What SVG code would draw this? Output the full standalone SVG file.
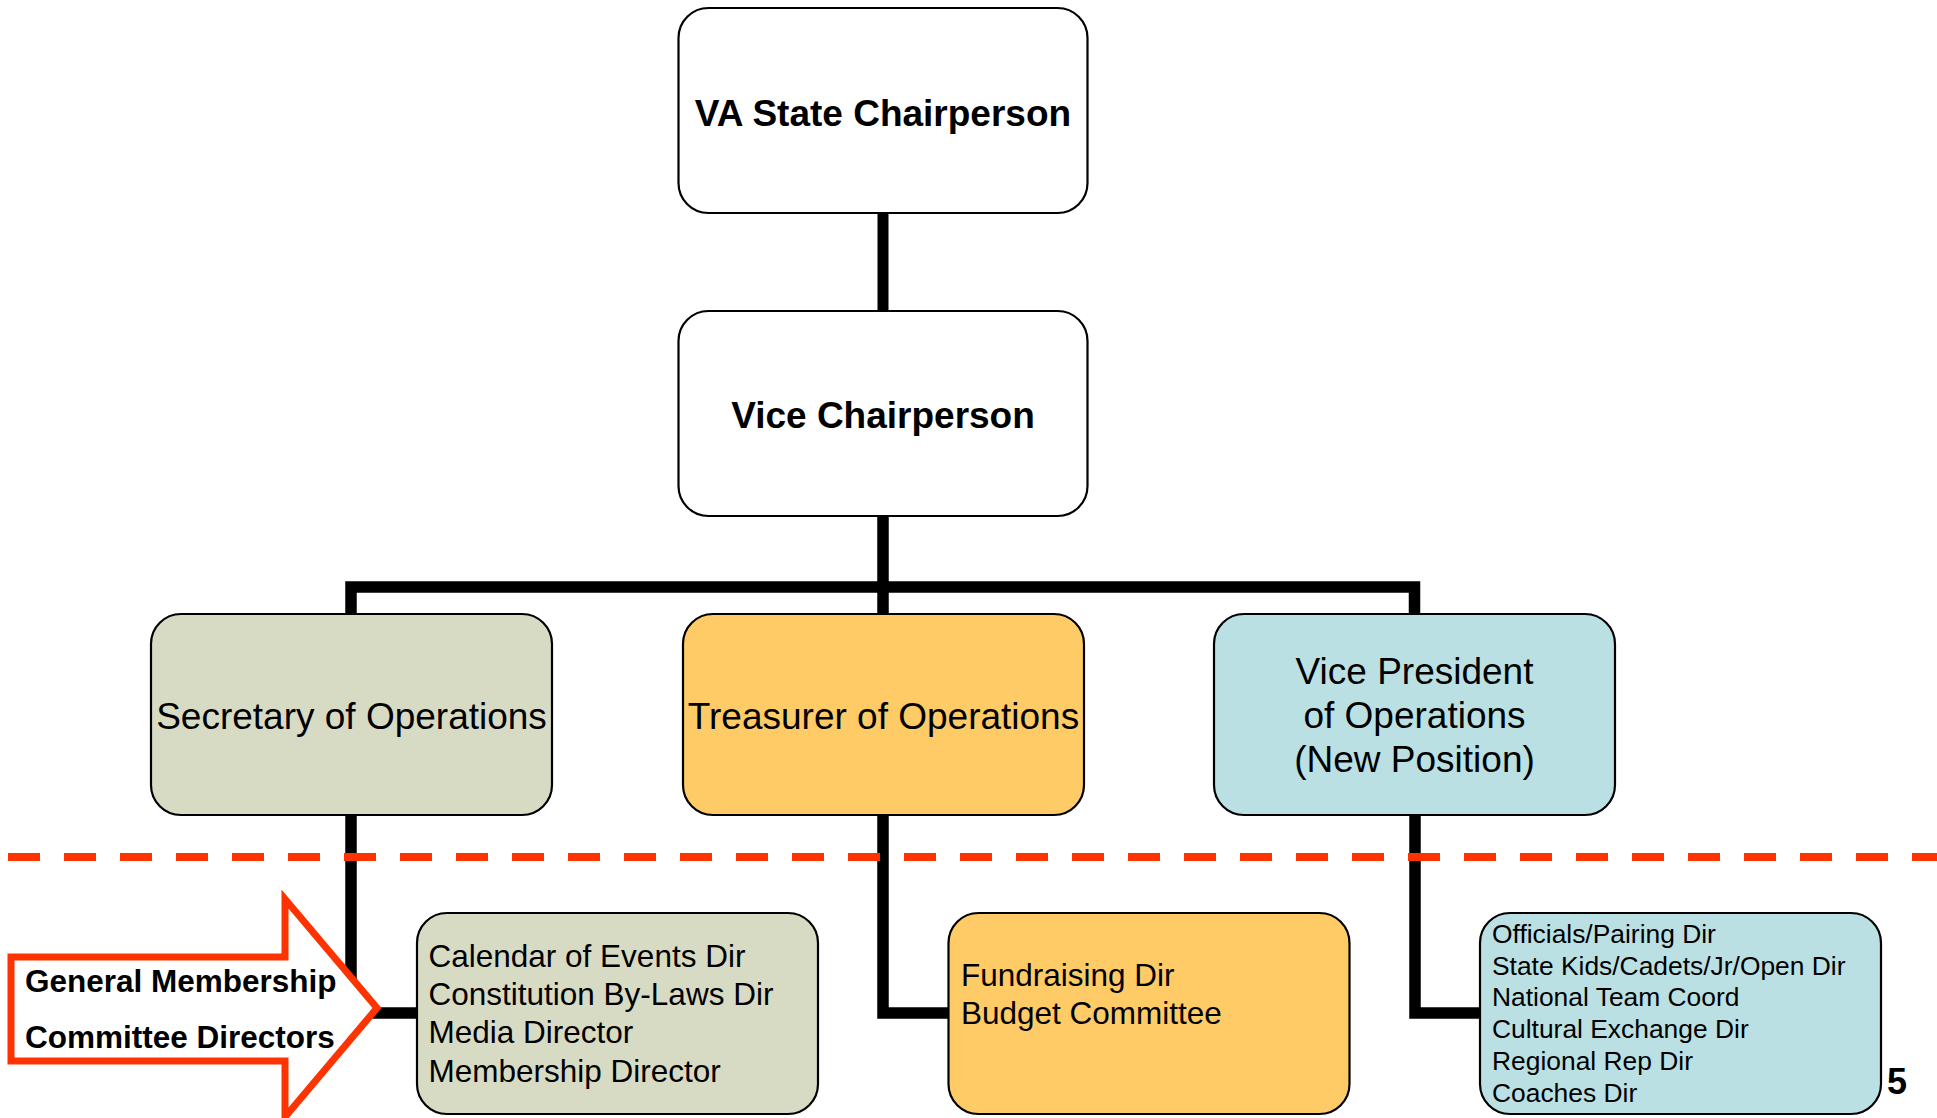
<svg xmlns="http://www.w3.org/2000/svg" width="1937" height="1118" viewBox="0 0 1937 1118">
<style>
  .box{stroke:#000;stroke-width:2.2}
  .t{font-family:"Liberation Sans",Arial,sans-serif;fill:#000}
  .b{font-weight:bold}
  .con{fill:none;stroke:#000;stroke-width:11.5;stroke-linejoin:miter}
</style>
<rect width="1937" height="1118" fill="#fff"/>
<g id="connectors">
  <line x1="883" y1="213" x2="883" y2="311" stroke="#000" stroke-width="11" stroke-linecap="round"/>
  <path class="con" d="M883 516 V614 M351 614 V587 H1414.5 V614"/>
  <path class="con" d="M351 815 V1013 H418"/>
  <path class="con" d="M883 815 V1013 H949"/>
  <path class="con" d="M1415 815 V1013 H1481"/>
</g>
<g id="n-chair">
  <rect class="box" x="678.5" y="8" width="409" height="205" rx="30" fill="#fff"/>
  <text class="t b" x="883" y="126" font-size="37" text-anchor="middle">VA State Chairperson</text>
</g>
<g id="n-vice">
  <rect class="box" x="678.5" y="311" width="409" height="205" rx="30" fill="#fff"/>
  <text class="t b" x="883" y="428" font-size="37" text-anchor="middle">Vice Chairperson</text>
</g>
<g id="n-sec">
  <rect class="box" x="151" y="614" width="401" height="201" rx="30" fill="#D8DBC4"/>
  <text class="t" x="351.5" y="729" font-size="37" text-anchor="middle">Secretary of Operations</text>
</g>
<g id="n-tre">
  <rect class="box" x="683" y="614" width="401" height="201" rx="30" fill="#FECB66"/>
  <text class="t" x="883.5" y="729" font-size="37" text-anchor="middle">Treasurer of Operations</text>
</g>
<g id="n-vp">
  <rect class="box" x="1214" y="614" width="401" height="201" rx="30" fill="#BAE0E3"/>
  <text class="t" font-size="37" text-anchor="middle"><tspan x="1414.5" y="684">Vice President</tspan><tspan x="1414.5" y="728">of Operations</tspan><tspan x="1414.5" y="772">(New Position)</tspan></text>
</g>
<g id="n-cal">
  <rect class="box" x="417" y="913" width="401" height="201" rx="30" fill="#D8DBC4"/>
  <text class="t" font-size="31.5"><tspan x="428.5" y="967">Calendar of Events Dir</tspan><tspan x="428.5" y="1005">Constitution By-Laws Dir</tspan><tspan x="428.5" y="1043">Media Director</tspan><tspan x="428.5" y="1082">Membership Director</tspan></text>
</g>
<g id="n-fund">
  <rect class="box" x="948.5" y="913" width="401" height="201" rx="30" fill="#FECB66"/>
  <text class="t" font-size="31.5"><tspan x="961" y="986">Fundraising Dir</tspan><tspan x="961" y="1024">Budget Committee</tspan></text>
</g>
<g id="n-vpsub">
  <rect class="box" x="1480" y="913" width="401" height="201" rx="30" fill="#BAE0E3"/>
  <text class="t" font-size="26.4"><tspan x="1492" y="943">Officials/Pairing Dir</tspan><tspan x="1492" y="974.5">State Kids/Cadets/Jr/Open Dir</tspan><tspan x="1492" y="1006">National Team Coord</tspan><tspan x="1492" y="1038">Cultural Exchange Dir</tspan><tspan x="1492" y="1070">Regional Rep Dir</tspan><tspan x="1492" y="1102">Coaches Dir</tspan></text>
</g>
<line id="divider" x1="8" y1="857" x2="1937" y2="857" stroke="#FF3300" stroke-width="8" stroke-dasharray="32 24"/>
<g id="n-arrow">
  <polygon points="11,957 285,957 285,899 377,1008 285,1117 285,1061 11,1061" fill="#fff" stroke="#FF3300" stroke-width="7" stroke-linejoin="miter"/>
  <text class="t b" font-size="31.5"><tspan x="25" y="992">General Membership</tspan><tspan x="25" y="1048">Committee Directors</tspan></text>
</g>
<text id="page" class="t b" x="1887" y="1094" font-size="36">5</text>
</svg>
